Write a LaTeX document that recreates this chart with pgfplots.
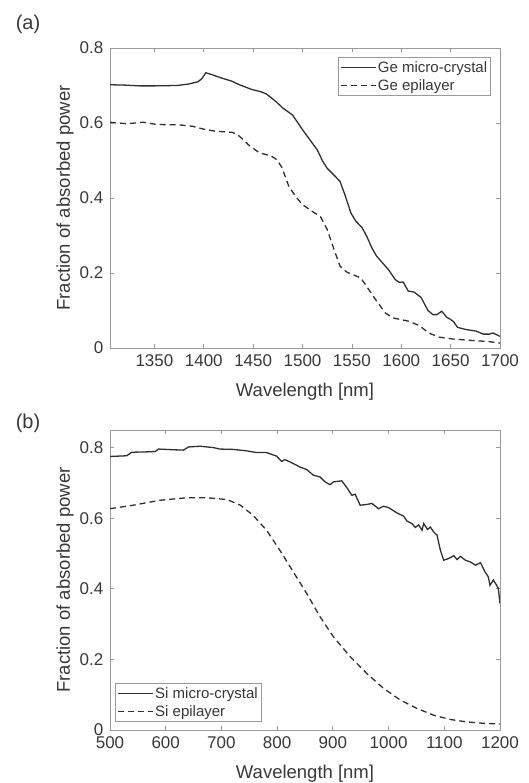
\documentclass[border=0pt]{standalone}
\usepackage{fontspec}
\setmainfont{Liberation Sans}
\usepackage{pgfplots}
\pgfplotsset{compat=1.18}
\definecolor{axgray}{HTML}{9A9A9A}
\definecolor{txtgray}{HTML}{383838}
\definecolor{linegray}{HTML}{303030}

\pgfplotsset{
  matlab/.style={
    scale only axis, width=390pt, height=300pt,
    axis line style={axgray, line width=0.8pt},
    every tick/.style={axgray, line width=0.8pt},
    major tick length=4pt,
    tick align=inside,
    /pgf/number format/assume math mode=true,
    /pgf/number format/1000 sep={},
    tick label style={font=\fontsize{17}{20}\selectfont, text=txtgray},
    xticklabel style={inner ysep=6pt},
    yticklabel style={inner xsep=6.5pt, /pgf/number format/fixed, /pgf/number format/precision=1},
    label style={font=\fontsize{18.5}{21}\selectfont, text=txtgray},
    xlabel style={at={(axis description cs:0.5,-0.145)}, anchor=center},
    ylabel style={at={(axis description cs:-0.115,0.5)}, anchor=center},
    xlabel={Wavelength [nm]},
    ylabel={Fraction of absorbed power},
    ymin=0,
    ytick={0,0.2,0.4,0.6,0.8},
    legend style={font=\fontsize{15}{17}\selectfont, draw=axgray, line width=0.8pt,
      text=txtgray, inner xsep=2pt, inner ysep=2.5pt, row sep=2.5pt,
      cells={anchor=west}, nodes={inner sep=1.5pt}},
    legend image code/.code={\draw[#1] (0pt,0pt) -- (35pt,0pt);},
  },
  solidln/.style={linegray, line width=1.3pt},
  dashln/.style={linegray, line width=1.3pt, dash pattern=on 6pt off 4pt},
}

\begin{document}
\begin{tikzpicture}
\useasboundingbox (0,0) rectangle (528pt,783pt);

\node[font=\fontsize{20}{22}\selectfont, text=txtgray] at (28pt,759pt) {(a)};
\node[font=\fontsize{20}{22}\selectfont, text=txtgray] at (28pt,360pt) {(b)};

% (a) Ge
\begin{axis}[matlab, at={(110pt,435pt)}, anchor=south west,
    xmin=1305, xmax=1700, ymax=0.8,
    xtick={1350,1400,1450,1500,1550,1600,1650,1700},
    legend style={at={(0.977,0.97)}, anchor=north east}]
\addplot[solidln] coordinates {
(1305,0.702) (1320,0.701) (1335,0.699) (1350,0.699) (1373,0.700) (1385,0.704)
(1394,0.710) (1398,0.718) (1402,0.734) (1408,0.729) (1419,0.719) (1428,0.712)
(1436,0.702) (1449,0.689) (1457,0.684) (1463,0.678) (1468,0.668) (1474,0.655)
(1480,0.640) (1490,0.621) (1500,0.582) (1510,0.546) (1515,0.528) (1520,0.500)
(1525,0.479) (1533,0.458) (1538,0.444) (1543,0.408) (1549,0.360) (1554,0.338)
(1560,0.322) (1565,0.298) (1570,0.268) (1575,0.245) (1581,0.227) (1587,0.209)
(1594,0.182) (1598,0.175) (1602,0.176) (1607,0.152) (1613,0.149) (1620,0.135)
(1627,0.100) (1632,0.089) (1636,0.089) (1641,0.098) (1646,0.082) (1650,0.076)
(1653,0.070) (1657,0.055) (1666,0.049) (1676,0.045) (1683,0.037) (1689,0.037)
(1693,0.040) (1700,0.031)};
\addlegendentry{Ge micro-crystal}
\addplot[dashln] coordinates {
(1305,0.602) (1322,0.598) (1339,0.602) (1352,0.596) (1375,0.595) (1389,0.591)
(1399,0.584) (1412,0.578) (1429,0.575) (1436,0.565) (1446,0.540) (1456,0.521)
(1469,0.511) (1474,0.502) (1479,0.482) (1486,0.432) (1493,0.404) (1500,0.382)
(1510,0.364) (1518,0.351) (1525,0.316) (1532,0.262) (1538,0.218) (1545,0.202)
(1559,0.187) (1565,0.164) (1574,0.129) (1584,0.093) (1592,0.080) (1608,0.071)
(1618,0.060) (1628,0.040) (1638,0.029) (1652,0.024) (1672,0.020) (1689,0.017)
(1700,0.013)};
\addlegendentry{Ge epilayer}
\end{axis}

% (b) Si
\begin{axis}[matlab, at={(110pt,53pt)}, anchor=south west,
    xmin=500, xmax=1200, ymax=0.85,
    xtick={500,600,700,800,900,1000,1100,1200},
    legend style={at={(0.0128,0.0267)}, anchor=south west}]
\addplot[solidln] coordinates {
(500,0.775) (530,0.777) (539,0.787) (566,0.788) (581,0.789) (587,0.796)
(614,0.794) (632,0.793) (641,0.802) (662,0.804) (686,0.800) (697,0.796)
(721,0.795) (745,0.791) (763,0.786) (781,0.786) (799,0.776) (808,0.761)
(814,0.766) (829,0.755) (841,0.745) (853,0.738) (865,0.722) (877,0.717)
(886,0.703) (895,0.695) (901,0.703) (916,0.706) (925,0.687) (934,0.665)
(940,0.668) (949,0.637) (961,0.639) (970,0.642) (982,0.627) (991,0.634)
(1000,0.630) (1015,0.615) (1027,0.606) (1033,0.592) (1042,0.585) (1048,0.574)
(1054,0.581) (1060,0.566) (1063,0.585) (1070,0.568) (1075,0.575) (1081,0.561)
(1087,0.552) (1093,0.509) (1099,0.481) (1108,0.486) (1117,0.494) (1123,0.483)
(1129,0.492) (1138,0.481) (1147,0.476) (1156,0.467) (1165,0.474) (1173,0.448)
(1179,0.434) (1182,0.410) (1188,0.425) (1194,0.410) (1197,0.401) (1200,0.358)};
\addlegendentry{Si micro-crystal}
\addplot[dashln] coordinates {
(500,0.627) (542,0.637) (590,0.651) (638,0.658) (674,0.658) (710,0.653)
(734,0.637) (757,0.608) (781,0.566) (805,0.509) (829,0.448) (853,0.387)
(877,0.321) (901,0.264) (931,0.208) (961,0.160) (991,0.118) (1021,0.085)
(1051,0.061) (1081,0.042) (1110,0.030) (1140,0.023) (1170,0.019) (1200,0.017)};
\addlegendentry{Si epilayer}
\end{axis}
\end{tikzpicture}
\end{document}
